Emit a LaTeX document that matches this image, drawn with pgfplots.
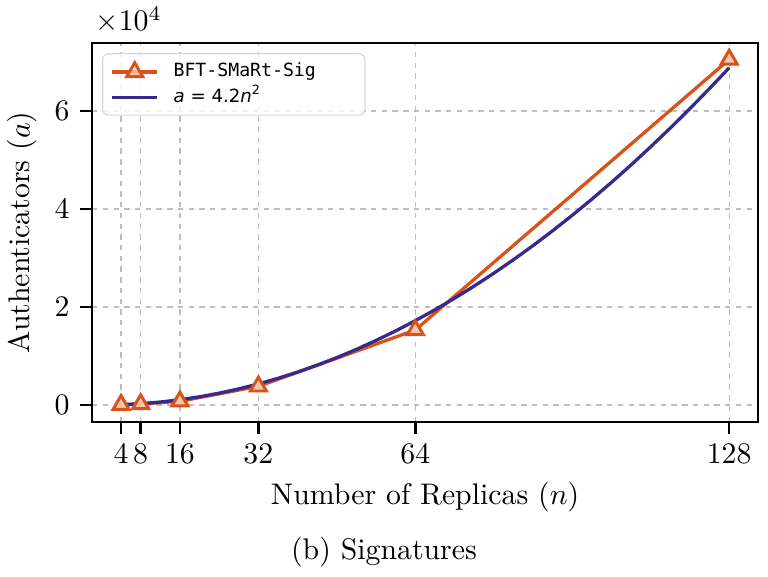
\documentclass[border=0pt]{standalone}
\usepackage{fontspec}
\usepackage{pgfplots}
\pgfplotsset{compat=1.18}
\newfontfamily\legmono{DejaVu Sans Mono}
\newfontfamily\legsans{DejaVu Sans}
\definecolor{corange}{RGB}{217,83,25}
\definecolor{cpurple}{RGB}{56,42,140}
\definecolor{cgrid}{RGB}{190,190,190}
\begin{document}
\begin{tikzpicture}
\path[use as bounding box] (-30.9pt,-52pt) rectangle (226.8pt,141.6pt);
\begin{axis}[
  name=ax,
  at={(0,0)}, anchor=south west,
  scale only axis, width=223.5pt, height=127.2pt,
  xmin=-1.91, xmax=133.91, ymin=-3470, ymax=73880,
  xtick={4,8,16,32,64,128},
  ytick={0,20000,40000,60000},
  scaled y ticks=base 10:-4,
  ytick scale label code/.code={$\times 10^{#1}$},
  every y tick scale label/.style={at={(rel axis cs:0,1)}, anchor=south west, inner sep=0pt, xshift=1pt, yshift=3pt},
  grid=major,
  grid style={cgrid, line width=0.45pt, dash pattern=on 1.8pt off 1.8pt},
  tick align=outside, tick pos=left,
  major tick length=4pt,
  every tick/.style={black, line width=0.8pt},
  axis line style={line width=0.8pt},
  xlabel={Number of Replicas ($n$)},
  ylabel={Authenticators ($a$)},
  x label style={at={(axis description cs:0.5,-0.198)}, anchor=center},
  y label style={at={(axis description cs:-0.105,0.5)}, anchor=center},
  legend style={at={(axis description cs:0.015,0.973)}, anchor=north west,
    draw=gray!30, rounded corners=2pt, fill=white, fill opacity=0.8, text opacity=1,
    inner xsep=2.7pt, inner ysep=3pt, row sep=2.5pt, column sep=5pt,
    nodes={inner sep=0pt, text height=4.6pt, text depth=1.4pt},
    font=\fontsize{6.1}{7.5}\selectfont},
  legend cell align=left,
  legend image code/.code={\draw[mark repeat=2,mark phase=2,#1] plot coordinates {(0pt,0pt) (7.5pt,0pt) (15pt,0pt)};},
]
\addplot[color=corange, line width=1.1pt, mark=triangle*, mark size=3.1pt,
  mark options={fill=corange!32, draw=corange, line width=1pt, solid}]
  coordinates {(4,50) (8,200) (16,750) (32,3800) (64,15300) (128,70500)};
\addlegendentry{\makebox[61.5pt][l]{\legmono BFT-SMaRt-Sig}}
\addplot[color=cpurple, line width=1.1pt, no marks]
  coordinates {
  (4,67.2) (8,268.8) (12,604.8) (16,1075.2) (20,1680) (24,2419.2) (28,3292.8)
  (32,4300.8) (36,5443.2) (40,6720) (44,8131.2) (48,9676.8) (52,11356.8)
  (56,13171.2) (60,15120) (64,17203.2) (68,19420.8) (72,21772.8) (76,24259.2)
  (80,26880) (84,29635.2) (88,32524.8) (92,35548.8) (96,38707.2) (100,42000)
  (104,45427.2) (108,48988.8) (112,52684.8) (116,56515.2) (120,60480)
  (124,64579.2) (128,68812.8)};
\addlegendentry{\makebox[61.5pt][l]{\legsans\itshape a\upshape{} = 4.2\itshape n\upshape\textsuperscript{2}}}
\end{axis}
\node at (97.95pt,-43.6pt) {(b) Signatures};
\end{tikzpicture}
\end{document}
